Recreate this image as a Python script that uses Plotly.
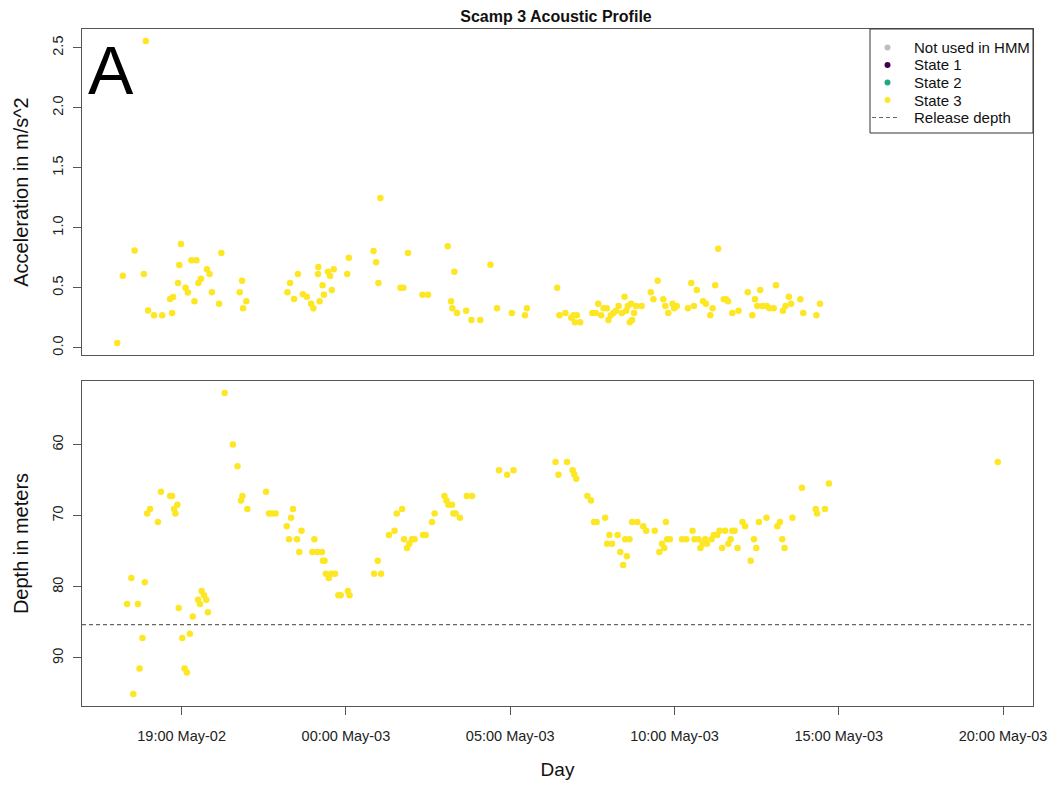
import datetime as dt
import plotly.graph_objects as go
from plotly.subplots import make_subplots

# ---------------- data (hours relative to 00:00 May-03) ----------------
acc_hours = [-6.96, -6.79, -6.43, -6.15, -6.09, -6.02, -5.84, -5.59, -5.35, -5.26, -5.29,
             -5.11, -5.07, -5.02, -4.88, -4.81, -4.70, -4.61, -4.55, -4.49, -4.41, -4.23,
             -4.15, -4.08, -3.86, -3.79, -3.23, -3.16, -3.13, -3.03, -1.78, -1.70, -1.58,
             -1.46, -1.31, -1.19, -1.06, -0.99, -0.85, -0.84, -0.80, -0.71, -0.67, -0.55,
             -0.48, -0.43, -0.37, 0.04, 0.09, 0.84, 0.92, 0.99, 1.05, 1.66, 1.75, 1.89,
             2.33, 2.50, 3.10, 3.20, 3.24, 3.30, 3.38, 3.66, 3.82, 4.09, 4.40, 4.60, 5.05,
             5.45, 5.51, 6.43, 6.50, 6.68, 6.86, 6.93, 6.97, 7.03, 7.13, 7.50, 7.60, 7.68,
             7.77, 7.84, 7.94, 7.99, 8.06, 8.14, 8.22, 8.30, 8.40, 8.48, 8.53, 8.58, 8.64,
             8.68, 8.71, 8.77, 8.83, 9.00, 9.28, 9.36, 9.49, 9.66, 9.72, 9.81, 9.94, 9.99,
             10.07, 10.41, 10.51, 10.59, 10.68, 10.87, 10.96, 11.09, 11.16, 11.24, 11.33,
             11.50, 11.57, 11.63, 11.76, 11.95, 12.23, 12.37, 12.45, 12.52, 12.61, 12.68,
             12.81, 12.89, 13.02, 13.09, 13.30, 13.38, 13.48, 13.55, 13.83, 13.92, 14.32,
             14.43]
acc_values = [0.04, 0.60, 0.81, 0.615, 2.556, 0.31, 0.27, 0.27, 0.406, 0.423, 0.29,
              0.54, 0.69, 0.865, 0.50, 0.46, 0.73, 0.387, 0.73, 0.54, 0.575, 0.654,
              0.615, 0.462, 0.367, 0.79, 0.462, 0.559, 0.329, 0.387, 0.462, 0.54, 0.406,
              0.615, 0.445, 0.425, 0.367, 0.329, 0.615, 0.673, 0.387, 0.52, 0.442, 0.634,
              0.598, 0.481, 0.654, 0.615, 0.75, 0.806, 0.712, 0.54, 1.249, 0.50, 0.50, 0.79,
              0.442, 0.442, 0.846, 0.387, 0.329, 0.634, 0.29, 0.309, 0.231, 0.231, 0.692, 0.329, 0.29,
              0.27, 0.329, 0.50, 0.27, 0.29, 0.25, 0.27, 0.212, 0.27, 0.212, 0.29, 0.29, 0.367,
              0.27, 0.329, 0.329, 0.231, 0.27, 0.29, 0.309, 0.348, 0.29, 0.425, 0.309, 0.348, 0.212,
              0.367, 0.231, 0.29, 0.348, 0.348, 0.462, 0.404, 0.559, 0.404, 0.348, 0.29, 0.367, 0.329,
              0.348, 0.329, 0.54, 0.348, 0.481, 0.387, 0.367, 0.27, 0.329, 0.52, 0.826,
              0.404, 0.404, 0.387, 0.29, 0.309, 0.462, 0.27, 0.404, 0.348, 0.481, 0.348,
              0.348, 0.329, 0.329, 0.52, 0.309, 0.348, 0.425, 0.367, 0.404, 0.29, 0.27,
              0.367]

depth_hours = [-6.66, -6.53, -6.47, -6.33, -6.28, -6.19, -6.12, -6.05, -5.96, -5.72, -5.63,
               -5.35, -5.29, -5.23, -5.19, -5.13, -5.09, -4.98, -4.91, -4.84, -4.75, -4.66,
               -4.50, -4.44, -4.39, -4.32, -4.25, -4.20, -3.69, -3.44, -3.30, -3.19, -3.15,
               -3.00, -2.43, -2.34, -2.25, -2.14, -1.80, -1.73, -1.67, -1.61, -1.49, -1.42,
               -1.35, -1.02, -0.96, -0.87, -0.73, -0.70, -0.65, -0.61, -0.52, -0.45, -0.33,
               -0.23, -0.16, 0.06, 0.11, 0.86, 0.97, 1.07, 1.31, 1.48, 1.55, 1.71, 1.77, 1.86,
               1.93, 2.01, 2.09, 2.35, 2.43, 2.62, 2.70, 3.00, 3.06, 3.12, 3.23, 3.27, 3.34,
               3.47, 3.68, 3.84, 4.66, 4.91, 5.10, 6.38, 6.47, 6.73, 6.90, 6.95, 7.01, 7.35,
               7.46, 7.55, 7.63, 7.89, 7.95, 8.02, 8.10, 8.27, 8.35, 8.44, 8.50, 8.55, 8.63,
               8.71, 8.87, 9.05, 9.14, 9.40, 9.54, 9.62, 9.69, 9.74, 9.78, 9.86, 10.23, 10.36,
               10.55, 10.61, 10.73, 10.79, 10.86, 10.94, 10.99, 11.13, 11.20, 11.30, 11.37,
               11.45, 11.54, 11.64, 11.71, 11.76, 11.83, 11.92, 12.07, 12.15, 12.32, 12.42,
               12.49, 12.57, 12.80, 13.13, 13.21, 13.28, 13.35, 13.59, 13.88, 14.30, 14.34,
               14.58, 14.70, 19.84]
depth_values = [82.4, 78.75, 95.06, 82.4, 91.47, 87.2, 79.36, 69.68, 69.07, 70.9, 66.65,
                67.25, 67.25, 69.07, 69.68, 68.47, 82.96, 87.2, 91.47, 92.03, 86.6, 84.18,
                81.8, 82.4, 80.58, 81.18, 81.8, 83.57, 52.76, 60.0, 63.04, 67.85, 67.25,
                69.07, 66.65, 69.68, 69.68, 69.68, 71.5, 73.32, 70.29, 69.07, 73.32, 75.1,
                72.12, 75.1, 73.32, 75.1, 75.1, 76.33, 76.33, 78.15, 78.75, 78.15, 78.15,
                81.18, 81.18, 80.58, 81.18, 78.15, 76.33, 78.15, 72.72, 72.12, 69.68, 69.07, 73.32, 74.54,
                73.94, 73.32, 73.32, 72.72, 72.72, 70.9, 69.68, 67.25, 67.85, 68.47, 68.47, 69.68, 69.68,
                70.29, 67.25, 67.25, 63.6, 64.26, 63.6, 62.44, 64.26, 62.44, 63.6, 64.2, 64.8, 67.25,
                67.85, 70.9, 70.9, 70.29, 73.94, 72.72, 73.94, 72.72, 75.1, 76.93, 73.32, 75.7, 73.32,
                70.9, 70.9, 71.5, 72.12, 72.12, 75.1, 73.94, 74.54, 70.9, 73.32, 73.32, 73.32, 73.32,
                72.12, 73.32, 73.32, 74.54, 73.94, 73.32, 73.94, 73.32, 72.72, 72.72, 72.12,
                74.54, 72.12, 73.94, 73.32, 72.12, 72.12, 74.54, 70.9, 71.5, 76.33, 73.32,
                74.54, 70.9, 70.29, 71.5, 70.9, 73.32, 74.54, 70.29, 66.08, 69.07, 69.68,
                69.07, 65.47, 62.44]

release_depth = 85.3
legend_labels = ["Not used in HMM", "State 1", "State 2", "State 3", "Release depth"]
legend_colors = ["#BEBEBE", "#440154", "#21A784", "#FDE725"]
state_color = "#FDE725"

base = dt.datetime(2021, 5, 3, 0, 0)
acc_t = [base + dt.timedelta(hours=h) for h in acc_hours]
dep_t = [base + dt.timedelta(hours=h) for h in depth_hours]

all_h = acc_hours + depth_hours
hmin, hmax = min(all_h), max(all_h)
pad = 0.04 * (hmax - hmin)
x_range = [base + dt.timedelta(hours=hmin - pad), base + dt.timedelta(hours=hmax + pad)]

amin, amax = min(acc_values), max(acc_values)
apad = 0.04 * (amax - amin)
dmin, dmax = min(depth_values), max(depth_values)
dpad = 0.04 * (dmax - dmin)

FONT = "Liberation Sans, Arial, sans-serif"
FRAME = "#555555"
W, H = 1052, 785
ML, MR, MT, MB = 82, 19, 29, 79
PW, PH = W - ML - MR, H - MT - MB


def px(xp):
    return (xp - ML) / PW


def py(yp):
    return (H - MB - yp) / PH


fig = make_subplots(rows=2, cols=1, shared_xaxes=False, vertical_spacing=0.0)

fig.add_trace(go.Scatter(x=acc_t, y=acc_values, mode="markers",
                         marker=dict(color=state_color, size=6.5, line=dict(width=0)),
                         showlegend=False, hoverinfo="x+y"), row=1, col=1)
fig.add_trace(go.Scatter(x=dep_t, y=depth_values, mode="markers",
                         marker=dict(color=state_color, size=6.5, line=dict(width=0)),
                         showlegend=False, hoverinfo="x+y"), row=2, col=1)

# release depth line
fig.add_shape(type="line", xref="x2 domain", yref="y2", x0=0, x1=1,
              y0=release_depth, y1=release_depth,
              line=dict(color="#666666", width=1.2, dash="4px,3px"))

axis_common = dict(showgrid=False, zeroline=False, showline=True, mirror=True,
                   linecolor=FRAME, linewidth=1.2, ticks="outside", ticklen=8,
                   tickcolor=FRAME, tickfont=dict(family=FONT, size=14.5, color="#222"),
                   ticklabelstandoff=8, automargin=False)

fig.update_xaxes(**axis_common, range=x_range, type="date")
fig.update_xaxes(showticklabels=False, ticks="", row=1, col=1)
fig.update_xaxes(tick0="2021-05-02 19:00", dtick=5 * 3600 * 1000,
                 tickformat="%H:%M %b-%d", row=2, col=1,
                 title=dict(text="Day", font=dict(family=FONT, size=19, color="#111"), standoff=20))

fig.update_yaxes(**axis_common)
fig.update_yaxes(ticklabelstandoff=4)
fig.update_yaxes(range=[amin - apad, amax + apad], tick0=0, dtick=0.5, tickformat=".1f",
                 tickangle=-90, row=1, col=1,
                 title=dict(text="Acceleration in m/s^2",
                            font=dict(family=FONT, size=20, color="#111"), standoff=16))
fig.update_yaxes(range=[dmax + dpad, dmin - dpad], tickvals=[60, 70, 80, 90],
                 tickangle=-90, row=2, col=1,
                 title=dict(text="Depth in meters",
                            font=dict(family=FONT, size=20, color="#111"), standoff=16))

fig.update_layout(
    width=W, height=H,
    margin=dict(l=ML, r=MR, t=MT, b=MB, autoexpand=False),
    plot_bgcolor="white", paper_bgcolor="white",
    font=dict(family=FONT, color="#111"),
    title=dict(text="<b>Scamp 3 Acoustic Profile</b>", x=px(556), xref="paper", xanchor="center",
               y=1 - 16 / H, yanchor="middle", font=dict(family=FONT, size=16, color="#111")),
    showlegend=False,
)
fig.layout.yaxis.domain = [py(355), 1.0]
fig.layout.yaxis2.domain = [0.0, py(381)]

# ---- manual legend box (R style) ----
fig.add_shape(type="rect", xref="paper", yref="paper", x0=px(870), x1=1.0,
              y0=py(133), y1=1.0, line=dict(color="#333333", width=1), fillcolor="white",
              layer="above")
row_y = [47.5, 65, 82.5, 100, 117.5]
for i, lab in enumerate(legend_labels):
    yy = py(row_y[i])
    if i < len(legend_colors):
        fig.add_shape(type="circle", xref="paper", yref="paper",
                      xsizemode="pixel", ysizemode="pixel",
                      xanchor=px(887.5), yanchor=yy, x0=-3, x1=3, y0=-3, y1=3,
                      fillcolor=legend_colors[i], line=dict(width=0), layer="above")
    else:
        fig.add_shape(type="line", xref="paper", yref="paper",
                      x0=px(872), x1=px(900), y0=yy, y1=yy,
                      line=dict(color="#666666", width=1.2, dash="4px,3px"), layer="above")
    fig.add_annotation(text=lab, xref="paper", yref="paper", x=px(912), y=yy,
                       xanchor="left", yanchor="middle", showarrow=False,
                       font=dict(family=FONT, size=15, color="#111"))

fig.add_annotation(text="A", xref="paper", yref="paper", x=px(86), y=py(30),
                   xanchor="left", yanchor="top", showarrow=False,
                   font=dict(family=FONT, size=68, color="black"))

fig.write_html("out.html")
